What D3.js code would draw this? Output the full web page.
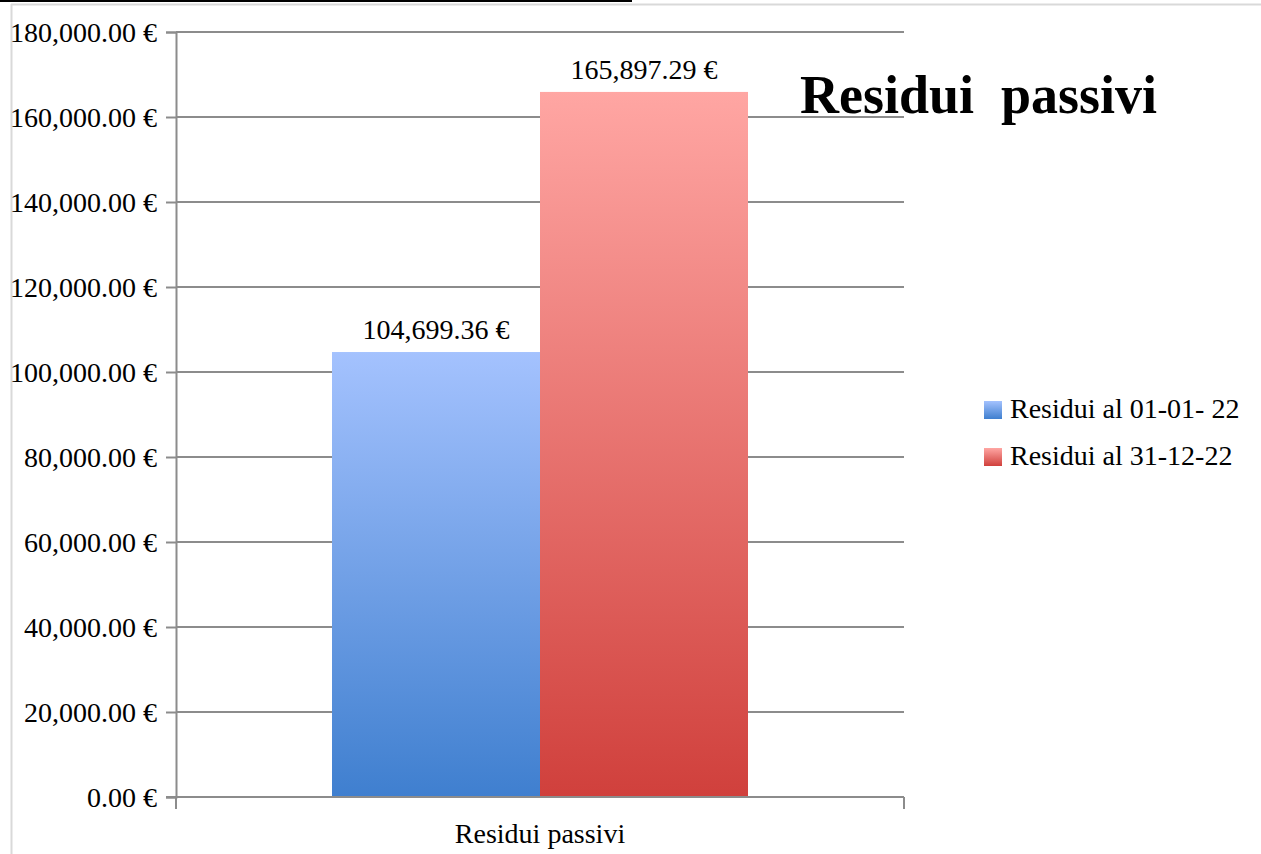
<!DOCTYPE html>
<html>
<head>
<meta charset="utf-8">
<script src="https://cdn.jsdelivr.net/npm/d3@7/dist/d3.min.js"></script>
<style>
  html, body { margin: 0; padding: 0; background: #ffffff; overflow: hidden; }
  svg { display: block; }
  text { font-family: "Liberation Serif", "DejaVu Serif", serif; fill: #000; }
</style>
</head>
<body>
<svg id="chart" width="1261" height="854"></svg>
<script>
const categories = ["Residui passivi"];
const seriesNames = ["Residui al 01-01- 22", "Residui al 31-12-22"];
const seriesValues = [104699.36, 165897.29];
const yTicks = [0, 20000, 40000, 60000, 80000, 100000, 120000, 140000, 160000, 180000];
const chartTitle = "Residui\u00A0\u00A0passivi";
const gradients = [["#a4c2fe", "#3f7fcf"], ["#ffa6a3", "#d0403c"]];

const svg = d3.select("#chart");
const fmt = d3.format(",.2f");
const euro = v => fmt(v) + " \u20AC";

const margin = { left: 176, right: 904, top: 32, bottom: 797 };

// outer frame
svg.append("line").attr("x1", 11.5).attr("x2", 11.5).attr("y1", 4).attr("y2", 854)
  .attr("stroke", "#d9d9d9").attr("stroke-width", 2);
svg.append("line").attr("x1", 11).attr("x2", 1261).attr("y1", 4.5).attr("y2", 4.5)
  .attr("stroke", "#d9d9d9").attr("stroke-width", 2);
// top underline from clipped heading
svg.append("line").attr("x1", 0).attr("x2", 632).attr("y1", 1).attr("y2", 1)
  .attr("stroke", "#000").attr("stroke-width", 2);

const y = d3.scaleLinear().domain([0, 180000]).range([margin.bottom, margin.top]);
const x0 = d3.scaleBand().domain(categories).range([margin.left, margin.right]).paddingInner(0).paddingOuter(0);
const groupW = x0.bandwidth();
// Excel gap width 150%: bars occupy 2/(2+1.5) of band
const x1 = d3.scaleBand().domain(seriesNames)
  .range([0, groupW]).paddingOuter(0.75 * (groupW / (2 + 1.5)) / (groupW / (2 + 1.5))).paddingInner(0);

const defs = svg.append("defs");
gradients.forEach((g, i) => {
  const lg = defs.append("linearGradient").attr("id", "grad" + i)
    .attr("x1", 0).attr("y1", 0).attr("x2", 0).attr("y2", 1);
  lg.append("stop").attr("offset", "0%").attr("stop-color", g[0]);
  lg.append("stop").attr("offset", "100%").attr("stop-color", g[1]);
});

// gridlines
svg.append("g").selectAll("line").data(yTicks.filter(d => d > 0)).join("line")
  .attr("x1", margin.left).attr("x2", margin.right)
  .attr("y1", d => y(d)).attr("y2", d => y(d))
  .attr("stroke", "#8c8c8c").attr("stroke-width", 2);

// y axis
const yAxis = d3.axisLeft(y).tickValues(yTicks).tickFormat(euro).tickSize(10).tickPadding(9);
const gy = svg.append("g").attr("transform", `translate(${margin.left},0)`).call(yAxis);
gy.select(".domain").attr("stroke", "#8c8c8c").attr("stroke-width", 2);
gy.selectAll(".tick line").attr("stroke", "#8c8c8c").attr("stroke-width", 2);
gy.selectAll(".tick text").attr("font-size", 28).attr("dy", "0.33em")
  .style("font-family", '"Liberation Serif", serif').attr("fill", "#000");

// bars
const groups = svg.append("g").selectAll("g").data(categories).join("g")
  .attr("transform", d => `translate(${x0(d)},0)`);
groups.selectAll("rect").data(() => seriesNames.map((s, i) => ({ s, i, v: seriesValues[i] }))).join("rect")
  .attr("x", d => x1(d.s)).attr("width", x1.bandwidth())
  .attr("y", d => y(d.v)).attr("height", d => y(0) - y(d.v))
  .attr("fill", d => `url(#grad${d.i})`);

groups.selectAll("text.lbl").data(() => seriesNames.map((s, i) => ({ s, i, v: seriesValues[i] }))).join("text")
  .attr("class", "lbl")
  .attr("x", d => x1(d.s) + x1.bandwidth() / 2)
  .attr("y", d => y(d.v) - 13)
  .attr("text-anchor", "middle").attr("font-size", 28)
  .text(d => euro(d.v));

// x axis
const xAxis = d3.axisBottom(x0).tickSize(0).tickPadding(0);
const gx = svg.append("g").attr("transform", `translate(0,${margin.bottom})`).call(xAxis);
gx.select(".domain").remove();
gx.selectAll(".tick text").remove();
svg.append("line").attr("x1", margin.left - 10).attr("x2", margin.right)
  .attr("y1", margin.bottom).attr("y2", margin.bottom)
  .attr("stroke", "#8c8c8c").attr("stroke-width", 2);
svg.append("g").selectAll("line").data([margin.left, margin.right]).join("line")
  .attr("x1", d => d).attr("x2", d => d).attr("y1", margin.bottom).attr("y2", margin.bottom + 12)
  .attr("stroke", "#8c8c8c").attr("stroke-width", 2);
svg.append("g").selectAll("text").data(categories).join("text")
  .attr("x", d => x0(d) + groupW / 2).attr("y", 843)
  .attr("text-anchor", "middle").attr("font-size", 28).text(d => d);

// title
svg.append("text").attr("x", 800).attr("y", 113).attr("font-size", 54).attr("font-weight", "bold")
  .text(chartTitle);

// legend
const leg = svg.append("g").selectAll("g").data(seriesNames).join("g")
  .attr("transform", (d, i) => `translate(984,${418 + i * 47})`);
leg.append("rect").attr("x", 0).attr("y", -17).attr("width", 18).attr("height", 18)
  .attr("fill", (d, i) => `url(#grad${i})`);
leg.append("text").attr("x", 26).attr("y", 0).attr("font-size", 28).text(d => d);
</script>
</body>
</html>
